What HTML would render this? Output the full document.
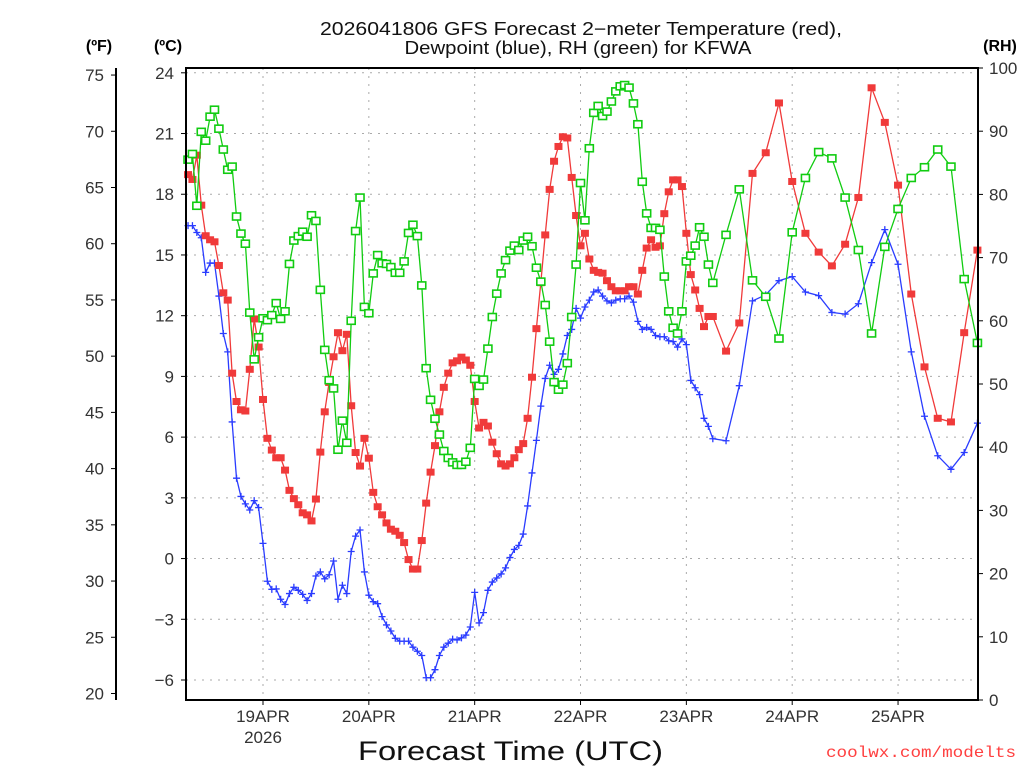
<!DOCTYPE html>
<html><head><meta charset="utf-8"><style>
html,body{margin:0;padding:0;background:#fff;}
svg{display:block;font-family:"Liberation Sans",sans-serif;}
</style></head><body>
<svg id="chart" width="1024" height="768" viewBox="0 0 1024 768" xmlns="http://www.w3.org/2000/svg">
<rect x="0" y="0" width="1024" height="768" fill="#fff"/>
<g id="grid"></g>
<g id="series"></g>
<g id="axes"></g>
<text x="581" y="35" font-size="18" text-anchor="middle" textLength="522" lengthAdjust="spacingAndGlyphs" fill="#111">2026041806 GFS Forecast 2−meter Temperature (red),</text>
<text x="578" y="54" font-size="18" text-anchor="middle" textLength="347" lengthAdjust="spacingAndGlyphs" fill="#111">Dewpoint (blue), RH (green) for KFWA</text>
<text x="99" y="51" font-size="16" font-weight="bold" text-anchor="middle">(ºF)</text>
<text x="168" y="51" font-size="16" font-weight="bold" text-anchor="middle">(ºC)</text>
<text x="1000" y="51" font-size="16" font-weight="bold" text-anchor="middle">(RH)</text>
<text x="358" y="760" font-size="27" textLength="305" lengthAdjust="spacingAndGlyphs" fill="#111">Forecast Time (UTC)</text>
<text x="826" y="757" font-size="16" font-family="Liberation Mono, monospace" textLength="190" lengthAdjust="spacingAndGlyphs" fill="#ff4040">coolwx.com/modelts</text>
</svg>
<script>
// ---- data (hours from 2026-04-18 06Z) ----
const dayLabels = ["19APR","20APR","21APR","22APR","23APR","24APR","25APR"];
const dayHours = [18,42,66,90,114,138,162];
const tempHourly = [18.97,18.73,19.93,17.46,15.95,15.75,15.65,14.48,13.13,12.77,9.16,7.76,7.35,7.29,9.35,11.84,10.45,7.86,5.94,5.36,4.98,4.98,4.37,3.37,2.96,2.66,2.26,2.16,1.86,2.94,5.26,7.25,8.70,9.97,11.16,10.27,11.08,7.55,5.24,4.57,5.94,4.96,3.27,2.56,2.16,1.76,
1.45,1.35,1.15,0.79,-0.05,-0.52,-0.52,0.89,2.74,4.27,5.58,7.25,8.46,9.16,9.67,9.77,9.95,9.81,9.55,7.76,6.45,6.73,6.55,5.75,5.18,4.68,4.57,4.68,4.98,5.38,5.68,6.93,8.96,11.36,13.63,15.99,18.24,19.63,20.36,20.84,20.78,18.83,16.95,15.45,16.07,14.80,
14.24,14.14,14.10,13.73,13.43,13.23,13.23,13.23,13.43,13.43,13.07,14.24,15.34,15.75,15.38,15.45,17.04,18.12,18.71,18.71,18.38,16.07,14.03,13.27,12.36,11.46,11.96,11.96];
const temp3h = [10.25,11.64,19.03,20.05,22.51,18.63,16.07,15.14,14.46,15.53,17.84,23.26,21.55,18.45,13.07,9.47,6.93,6.75,11.16,15.24];
const dewHourly = [16.45,16.45,16.11,15.85,14.14,14.60,14.60,12.97,11.12,10.21,6.75,3.97,3.07,2.70,2.40,2.86,2.52,0.75,-1.12,-1.52,-1.50,-2.01,-2.27,-1.73,-1.42,-1.57,-1.77,-2.07,-1.73,-0.86,-0.66,-1.00,-0.80,-0.12,-2.01,-1.32,-1.73,0.35,1.11,1.41,-0.66,-1.81,-2.13,-2.23,-2.87,-3.28,
-3.58,-3.94,-4.08,-4.08,-4.08,-4.38,-4.58,-4.79,-5.89,-5.89,-5.49,-4.79,-4.38,-4.18,-3.98,-4.02,-3.92,-3.78,-3.38,-1.67,-3.18,-2.67,-1.57,-1.16,-0.96,-0.76,-0.46,0.05,0.45,0.65,1.21,2.60,4.23,5.84,7.53,8.90,9.55,9.10,9.35,10.11,11.02,11.32,12.36,11.88,12.43,12.77,
13.17,13.27,12.97,12.73,12.63,12.77,12.83,12.83,12.97,12.67,11.72,11.32,11.42,11.32,11.02,10.96,10.96,10.76,10.72,10.45,10.85,10.57,8.80,8.44,8.10,6.93,6.53,5.92];
const dew3h = [5.82,8.54,12.73,13.03,13.73,13.93,13.17,12.99,12.16,12.08,12.59,14.62,16.25,14.54,10.21,7.03,5.08,4.41,5.24,6.69];
const rhHourly = [85.5,86.4,78.2,89.9,88.5,92.3,93.4,90.4,87.1,83.9,84.4,76.5,73.8,72.2,61.3,53.9,57.4,60.4,60.1,60.9,62.8,60.3,61.5,69.0,72.7,73.4,74.1,73.3,76.7,75.8,64.9,55.4,50.6,49.3,39.6,44.2,40.7,60.0,74.2,79.5,62.2,61.2,67.5,70.4,69.1,69.0,
68.5,67.6,67.6,69.4,73.9,75.2,73.4,65.6,52.5,47.5,44.5,42.0,39.4,38.3,37.6,37.2,37.2,37.7,39.9,50.8,49.7,50.7,55.6,60.6,64.3,67.5,69.6,71.1,71.9,71.2,72.7,73.3,71.8,68.4,66.2,62.5,56.7,50.3,49.1,49.9,53.3,60.6,68.9,81.8,75.9,87.3,
92.9,94.0,92.4,93.1,94.7,96.3,97.1,97.3,96.9,94.4,91.1,82.0,77.0,74.7,74.7,74.4,67.0,61.5,58.9,58.0,61.5,69.4,70.3,71.9,74.8,73.3,68.9,66.0];
const rh3h = [73.6,80.8,66.4,63.8,57.2,74.0,82.6,86.7,85.7,79.5,71.2,58.0,71.7,77.7,82.6,84.3,87.1,84.4,66.6,56.5];
const cTicks = [24,21,18,15,12,9,6,3,0,-3,-6];
const fTicks = [75,70,65,60,55,50,45,40,35,30,25,20];
const rhTicks = [100,90,80,70,60,50,40,30,20,10,0];

// ---- scales ----
const L=186,R=978,T=68,B=700;
function xs(h){return 263+(h-18)*4.41;}
function yc(c){return 680-(c+6)*20.24;}
function yf(f){return yc((f-32)*5/9);}
function yr(r){return 700-r*6.32;}
function hoursFor(nH,n3){const a=[];for(let i=0;i<nH;i++)a.push(i+1);for(let j=0;j<n3;j++)a.push(nH+3*(j+1));return a;}

const NS="http://www.w3.org/2000/svg";
function mk(parent,tag,attrs){const e=document.createElementNS(NS,tag);for(const k in attrs)e.setAttribute(k,attrs[k]);parent.appendChild(e);return e;}
const grid=document.getElementById('grid'),ser=document.getElementById('series'),ax=document.getElementById('axes');

// gridlines
cTicks.forEach(c=>{const l=mk(grid,'line',{x1:L,x2:R,y1:yc(c),y2:yc(c),stroke:'#aaa','stroke-width':1,'stroke-dasharray':'2,6'});

});
dayHours.forEach(h=>{const l=mk(grid,'line',{x1:xs(h),x2:xs(h),y1:T,y2:B,stroke:'#aaa','stroke-width':1,'stroke-dasharray':'2,6'});

});

// series
function drawSeries(vals,yfn,color,kind,name){
  const hrs=hoursFor(vals.length-20,20);
  const pts=vals.map((v,i)=>xs(hrs[i]).toFixed(1)+','+yfn(v).toFixed(1)).join(' ');
  const pl=mk(ser,'polyline',{points:pts,fill:'none',stroke:color,'stroke-width':1.3});
  
  
  vals.forEach((v,i)=>{
    const x=xs(hrs[i]),y=yfn(v);let m;
    if(kind==='fill'){m=mk(ser,'rect',{x:x-4,y:y-3.5,width:8,height:7,fill:color});}
    else if(kind==='hollow'){m=mk(ser,'rect',{x:x-4,y:y-3.5,width:8,height:7,fill:'#fff',stroke:color,'stroke-width':1.6});}
    else {m=mk(ser,'path',{d:`M${x-3.5},${y}H${x+3.5}M${x},${y-3.5}V${y+3.5}`,stroke:color,'stroke-width':1.3,fill:'none'});}
    
    
  });
}
drawSeries(dewHourly.concat(dew3h),yc,'#2a3cff','plus','dewpoint');
drawSeries(tempHourly.concat(temp3h),yc,'#f03a3a','fill','temperature');
drawSeries(rhHourly.concat(rh3h),yr,'#11cc11','hollow','rh');

// frame
const fr=mk(ax,'rect',{x:L,y:T,width:R-L,height:B-T,fill:'none',stroke:'#000','stroke-width':2});


const fl=mk(ax,'line',{x1:116,x2:116,y1:T,y2:B,stroke:'#000','stroke-width':2});



const txtStyle={'font-size':17,fill:'#333'};
cTicks.forEach(c=>{
  mk(ax,'line',{x1:L-5,x2:L,y1:yc(c),y2:yc(c),stroke:'#000','stroke-width':1});
  const t=mk(ax,'text',Object.assign({x:L-12,y:yc(c)+6,'text-anchor':'end'},txtStyle));
  t.textContent=c<0?'−'+Math.abs(c):String(c);
  
  
});
fTicks.forEach(f=>{
  mk(ax,'line',{x1:111,x2:116,y1:yf(f),y2:yf(f),stroke:'#000','stroke-width':1});
  const t=mk(ax,'text',Object.assign({x:104,y:yf(f)+6,'text-anchor':'end'},txtStyle));
  t.textContent=String(f);
  
  
});
rhTicks.forEach(r=>{
  mk(ax,'line',{x1:R,x2:R+5,y1:yr(r),y2:yr(r),stroke:'#000','stroke-width':1});
  const t=mk(ax,'text',Object.assign({x:989,y:yr(r)+6,'text-anchor':'start'},txtStyle));
  t.textContent=String(r);
  
  
});
dayHours.forEach((h,i)=>{
  mk(ax,'line',{x1:xs(h),x2:xs(h),y1:B,y2:B+5,stroke:'#000','stroke-width':1});
  const t=mk(ax,'text',Object.assign({x:xs(h),y:722,'text-anchor':'middle'},txtStyle));
  t.textContent=dayLabels[i];
  
  
});
const yr26=mk(ax,'text',Object.assign({x:xs(18),y:743,'text-anchor':'middle'},txtStyle));
yr26.textContent='2026';


</script>
</body></html>
